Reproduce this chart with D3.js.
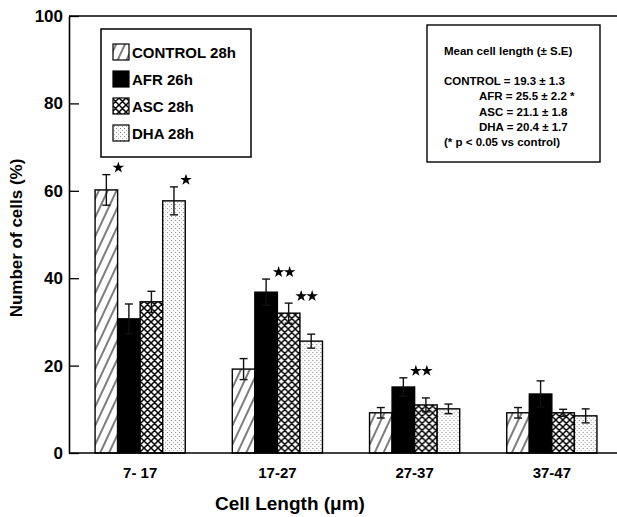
<!DOCTYPE html>
<html>
<head>
<meta charset="utf-8">
<script src="https://cdn.jsdelivr.net/npm/d3@7"></script>
<style>
  html, body { margin: 0; padding: 0; background: #fff; }
  svg { display: block; font-family: "Liberation Sans", Arial, Helvetica, sans-serif; }
</style>
</head>
<body>
<svg id="chart" width="617" height="517"></svg>
<script>
// ---------- DATA ----------
const categories = ["7- 17", "17-27", "27-37", "37-47"];
const seriesNames = ["CONTROL", "AFR", "ASC", "DHA"];
const legendLabels = ["CONTROL 28h", "AFR 26h", "ASC 28h", "DHA 28h"];
const controlValues = [60.2, 19.2, 9.2, 9.2];
const controlErrors = [3.5, 2.4, 1.2, 1.2];
const afrValues = [30.7, 36.8, 15.1, 13.5];
const afrErrors = [3.4, 3.0, 2.1, 3.0];
const ascValues = [34.6, 32.0, 11.0, 9.2];
const ascErrors = [2.4, 2.3, 1.6, 0.8];
const dhaValues = [57.7, 25.6, 10.1, 8.5];
const dhaErrors = [3.2, 1.6, 1.1, 1.6];
const yTicks = [0, 20, 40, 60, 80, 100];
// significance stars: category, series, number of stars
const starCats = ["7- 17", "7- 17", "17-27", "17-27", "27-37"];
const starSeries = ["CONTROL", "DHA", "AFR", "ASC", "AFR"];
const starCounts = [1, 1, 2, 2, 2];
const infoTitle = "Mean cell length (\u00B1 S.E)";
const infoLines = ["CONTROL = 19.3 \u00B1 1.3", "AFR = 25.5 \u00B1 2.2 *", "ASC = 21.1 \u00B1 1.8", "DHA = 20.4 \u00B1 1.7", "(* p < 0.05 vs control)"];
const infoIndent = [0, 1, 1, 1, 0];
const xTitle = "Cell Length (\u03BCm)";
const yTitle = "Number of cells (%)";

const valuesBySeries = { CONTROL: controlValues, AFR: afrValues, ASC: ascValues, DHA: dhaValues };
const errorsBySeries = { CONTROL: controlErrors, AFR: afrErrors, ASC: ascErrors, DHA: dhaErrors };

// ---------- SETUP ----------
const svg = d3.select("#chart");
const W = 617;
const axisX = 69, baseY = 453, topY = 16;

const defs = svg.append("defs");
// hatch for CONTROL
const ph = defs.append("pattern").attr("id", "hatch").attr("patternUnits", "userSpaceOnUse")
  .attr("width", 8).attr("height", 8).attr("patternTransform", "rotate(25)");
ph.append("rect").attr("width", 8).attr("height", 8).attr("fill", "#fff");
ph.append("line").attr("x1", 4).attr("x2", 4).attr("y1", 0).attr("y2", 8)
  .attr("stroke", "#111").attr("stroke-width", 1.1);
// crosshatch for ASC
const pc = defs.append("pattern").attr("id", "cross").attr("patternUnits", "userSpaceOnUse")
  .attr("width", 7).attr("height", 7);
pc.append("rect").attr("width", 7).attr("height", 7).attr("fill", "#fff");
pc.append("path").attr("d", "M0,0L7,7M7,0L0,7M-1,6L1,8M6,-1L8,1M-1,1L1,-1M6,8L8,6")
  .attr("stroke", "#000").attr("stroke-width", 1.5);
// dots for DHA
const pd = defs.append("pattern").attr("id", "dots").attr("patternUnits", "userSpaceOnUse")
  .attr("width", 4).attr("height", 4);
pd.append("rect").attr("width", 4).attr("height", 4).attr("fill", "#fbfbfb");
pd.append("rect").attr("x", 0).attr("y", 0).attr("width", 1).attr("height", 1).attr("fill", "#8a8a8a");
pd.append("rect").attr("x", 2).attr("y", 2).attr("width", 1).attr("height", 1).attr("fill", "#b0b0b0");

const fills = { CONTROL: "url(#hatch)", AFR: "#000", ASC: "url(#cross)", DHA: "url(#dots)" };

const y = d3.scaleLinear().domain([0, 100]).range([baseY, topY]);
const x0 = d3.scaleBand().domain(categories).range([axisX, 623]).paddingInner(0.343).paddingOuter(0.19);
const x1 = d3.scaleBand().domain(seriesNames).range([0, x0.bandwidth()]).padding(0);

// ---------- BARS ----------
const groups = svg.append("g").selectAll("g").data(categories).join("g")
  .attr("transform", d => `translate(${x0(d)},0)`);

groups.each(function(cat, ci) {
  const g = d3.select(this);
  seriesNames.forEach(s => {
    const v = valuesBySeries[s][ci];
    g.append("rect")
      .attr("x", x1(s)).attr("y", y(v))
      .attr("width", x1.bandwidth()).attr("height", y(0) - y(v))
      .attr("fill", fills[s]).attr("stroke", "#000").attr("stroke-width", 1.4);
  });
  seriesNames.forEach(s => {
    const v = valuesBySeries[s][ci], e = errorsBySeries[s][ci];
    const cx = x1(s) + x1.bandwidth() / 2;
    const eb = g.append("g").attr("stroke", "#111").attr("stroke-width", 1.4);
    eb.append("line").attr("x1", cx).attr("x2", cx).attr("y1", y(v + e)).attr("y2", y(v - e));
    eb.append("line").attr("x1", cx - 4).attr("x2", cx + 4).attr("y1", y(v + e)).attr("y2", y(v + e));
    eb.append("line").attr("x1", cx - 4).attr("x2", cx + 4).attr("y1", y(v - e)).attr("y2", y(v - e));
  });
});

// ---------- STARS ----------
const star = d3.symbol().type(d3.symbolStar).size(42);
starCats.forEach((cat, i) => {
  const s = starSeries[i], n = starCounts[i];
  const ci = categories.indexOf(cat);
  const v = valuesBySeries[s][ci], e = errorsBySeries[s][ci];
  const cx = x0(cat) + x1(s) + x1.bandwidth() / 2;
  const sy = y(v + e) - 7;
  const xs = n === 1 ? [cx + 12] : [cx + 12.5, cx + 23.5];
  xs.forEach(sx => {
    svg.append("path").attr("d", star).attr("transform", `translate(${sx},${sy})`).attr("fill", "#000");
  });
});

// ---------- AXES ----------
const yAxis = d3.axisLeft(y).tickValues(yTicks).tickSizeInner(-10).tickSizeOuter(0).tickPadding(6);
const gy = svg.append("g").attr("transform", `translate(${axisX},0)`).call(yAxis);
gy.select(".domain").attr("stroke", "#000").attr("stroke-width", 1.6);
gy.selectAll(".tick line").attr("stroke", "#000").attr("stroke-width", 1.3);
gy.selectAll(".tick text").attr("font-size", 17).attr("font-weight", "bold").attr("fill", "#000")
  .attr("font-family", "'Liberation Sans', Arial, sans-serif");

const xAxis = d3.axisBottom(x0).tickSize(0).tickPadding(14);
const gx = svg.append("g").attr("transform", `translate(0,${baseY})`).call(xAxis);
gx.select(".domain").remove();
gx.selectAll(".tick text").attr("font-size", 15).attr("font-weight", "bold").attr("fill", "#000")
  .attr("font-family", "'Liberation Sans', Arial, sans-serif");

// baseline and top frame line
svg.append("line").attr("x1", axisX).attr("x2", W).attr("y1", baseY).attr("y2", baseY)
  .attr("stroke", "#000").attr("stroke-width", 1.6);
svg.append("line").attr("x1", axisX).attr("x2", W).attr("y1", topY).attr("y2", topY)
  .attr("stroke", "#000").attr("stroke-width", 1.3);

// axis titles
svg.append("text").attr("x", (axisX + W) / 2 - 53).attr("y", 510).attr("text-anchor", "middle")
  .attr("font-size", 19).attr("font-weight", "bold").text(xTitle);
svg.append("text").attr("transform", "translate(22,238) rotate(-90)").attr("text-anchor", "middle")
  .attr("font-size", 17).attr("font-weight", "bold").text(yTitle);

// ---------- LEGEND ----------
const lg = svg.append("g");
lg.append("rect").attr("x", 101).attr("y", 29).attr("width", 150).attr("height", 128)
  .attr("fill", "#fff").attr("stroke", "#000").attr("stroke-width", 1.5);
seriesNames.forEach((s, i) => {
  const by = 58 + i * 27;
  lg.append("rect").attr("x", 113).attr("y", by - 14).attr("width", 16).attr("height", 16)
    .attr("fill", fills[s]).attr("stroke", "#000").attr("stroke-width", 1.2);
  lg.append("text").attr("x", 132).attr("y", by).attr("font-size", 15).attr("font-weight", "bold")
    .text(legendLabels[i]);
});

// ---------- INFO BOX ----------
const ib = svg.append("g");
ib.append("rect").attr("x", 427).attr("y", 25).attr("width", 173).attr("height", 137)
  .attr("fill", "#fff").attr("stroke", "#000").attr("stroke-width", 1.4);
ib.append("text").attr("x", 444).attr("y", 55).attr("font-size", 11.5).attr("font-weight", "bold").text(infoTitle);
infoLines.forEach((t, i) => {
  ib.append("text").attr("x", infoIndent[i] ? 479 : 444).attr("y", 85 + i * 15.3)
    .attr("font-size", 11.5).attr("font-weight", "bold").text(t);
});
</script>
</body>
</html>
